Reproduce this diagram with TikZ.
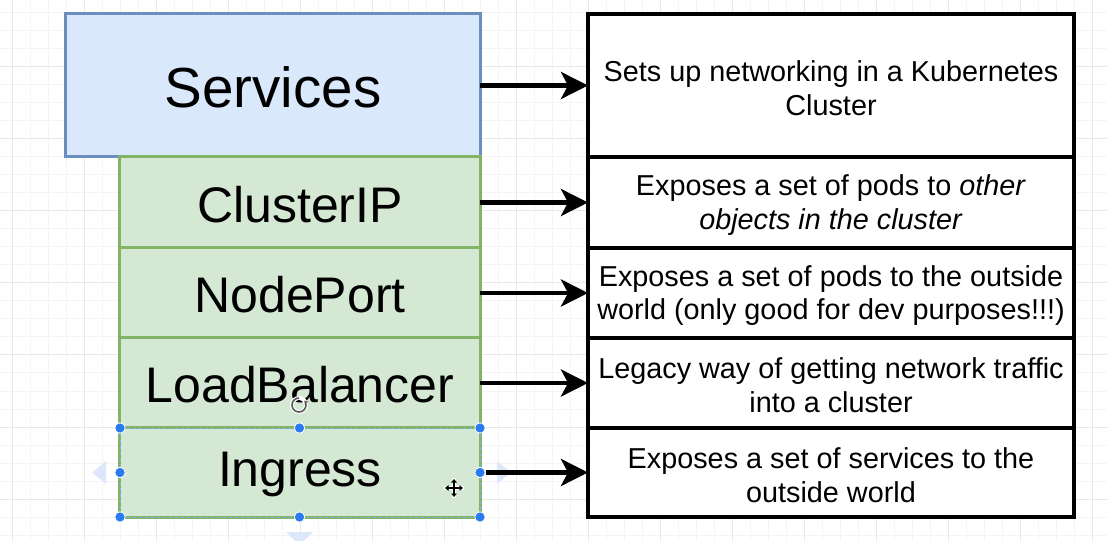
\documentclass[tikz,border=0pt]{standalone}
\usepackage{fontspec}
\setmainfont{Liberation Sans}
\usetikzlibrary{arrows.meta}
\definecolor{bluefill}{HTML}{DAE8FC}
\definecolor{blueline}{HTML}{6C8EBF}
\definecolor{greenfill}{HTML}{D5E8D4}
\definecolor{greenline}{HTML}{82B366}
\definecolor{gridminor}{HTML}{F4F4F4}
\definecolor{gridmajor}{HTML}{E8E8E8}
\definecolor{handle}{HTML}{2B7BF0}
\definecolor{ghost}{HTML}{DCE7FA}
\begin{document}
\begin{tikzpicture}[x=1bp,y=-1bp,
  svcbox/.style={draw=blueline, fill=bluefill, line width=3bp, outer sep=0pt,
    minimum width=414bp, minimum height=143bp, inner sep=0pt},
  svctext/.style={font=\fontsize{56.5bp}{66bp}\selectfont, yshift=-1.5bp},
  typebox/.style={draw=greenline, fill=greenfill, line width=3bp, outer sep=0pt,
    minimum width=360bp, inner sep=0pt},
  typetext/.style={font=\fontsize{50bp}{58bp}\selectfont, yshift=-2bp},
  descbox/.style={draw=black, fill=white, line width=4bp, outer sep=0pt,
    minimum width=486bp, inner sep=0pt},
  desctext/.style={align=center, font=\fontsize{28.8bp}{33.6bp}\selectfont, yshift=-2.5bp},
  arr/.style={line width=4.5bp, -{Stealth[length=27bp,width=27bp,inset=7bp]}},
  handledot/.style={fill=handle, draw=white, line width=0.8bp},
  ghosttri/.style={fill=ghost}
]
\useasboundingbox (0,0) rectangle (1107,541);
\fill[white] (0,0) rectangle (1107,541);
% grid
\foreach \x in {12,30,...,1107} \draw[gridminor, line width=1bp] (\x,0) -- (\x,541);
\foreach \y in {13,31,...,541} \draw[gridminor, line width=1bp] (0,\y) -- (1107,\y);
\foreach \x in {12,84,...,1107} \draw[gridmajor, line width=1bp] (\x,0) -- (\x,541);
\foreach \y in {67,139,...,541} \draw[gridmajor, line width=1bp] (0,\y) -- (1107,\y);

% left column
\node[svcbox, label={[svctext]center:Services}] (svc) at (273,85.5) {};
\node[typebox, minimum height=91bp, label={[typetext]center:ClusterIP}] (cip) at (300,202.5) {};
\node[typebox, minimum height=90bp, label={[typetext]center:NodePort}] (np) at (300,293) {};
\node[typebox, minimum height=90bp, label={[typetext]center:LoadBalancer}] (lb) at (300,383) {};
\node[typebox, minimum height=89bp, label={[typetext]center:Ingress}] (ing) at (300,472.5) {};

% right column
\node[descbox, minimum height=143bp, label={[desctext]center:{Sets up networking in a Kubernetes\\Cluster}}] (d1) at (831,85.5) {};
\node[descbox, minimum height=91bp, label={[desctext]center:{Exposes a set of pods to \textit{other}\\\textit{objects in the cluster}}}] (d2) at (831,202.5) {};
\node[descbox, minimum height=90bp, label={[desctext]center:{Exposes a set of pods to the outside\\world (only good for dev purposes!!!)}}] (d3) at (831,293) {};
\node[descbox, minimum height=90bp, label={[desctext]center:{Legacy way of getting network traffic\\into a cluster}}] (d4) at (831,383) {};
\node[descbox, minimum height=89bp, label={[desctext]center:{Exposes a set of services to the\\outside world}}] (d5) at (831,472.5) {};

% selection ghosts
\fill[ghosttri] (106,461) -- (92,472.5) -- (106,484) -- cycle;
\fill[ghosttri] (497,461) -- (511,472.5) -- (497,484) -- cycle;
\fill[ghosttri] (286,532) -- (313,532) -- (299.5,545) -- cycle;

% connectors
\draw[arr] (svc.east) -- (d1.west);
\draw[arr] (cip.east) -- (d2.west);
\draw[arr] (np.east) -- (d3.west);
\draw[arr] (lb.east) -- (d4.west);
\draw[arr] ([xshift=6bp]ing.east) -- (d5.west);

% selection outline and handles
\draw[handle!60, line width=0.8bp, dash pattern=on 3bp off 3bp] (ing.north west) rectangle (ing.south east);
\foreach \p in {(120,428),(299.5,428),(480,428),(120,472.5),(480,472.5),(120,517),(299.5,517),(480,517)}
  \filldraw[handledot] \p circle (5.2bp);

% rotate icon
\draw[white, line width=4bp] (299,405) circle (7bp);
\draw[black!65, line width=1.6bp, -{Stealth[length=4bp,width=5bp]}] (299,398) arc[start angle=90, end angle=400, radius=7bp];

% move cursor
\draw[white, line width=4bp] (444,488) -- (464,488) (454,478) -- (454,498);
\draw[black, line width=1.3bp, {Triangle[length=3.5bp,width=5.5bp]}-{Triangle[length=3.5bp,width=5.5bp]}] (445,488) -- (463,488);
\draw[black, line width=1.3bp, {Triangle[length=3.5bp,width=5.5bp]}-{Triangle[length=3.5bp,width=5.5bp]}] (454,479) -- (454,497);
\end{tikzpicture}
\end{document}
